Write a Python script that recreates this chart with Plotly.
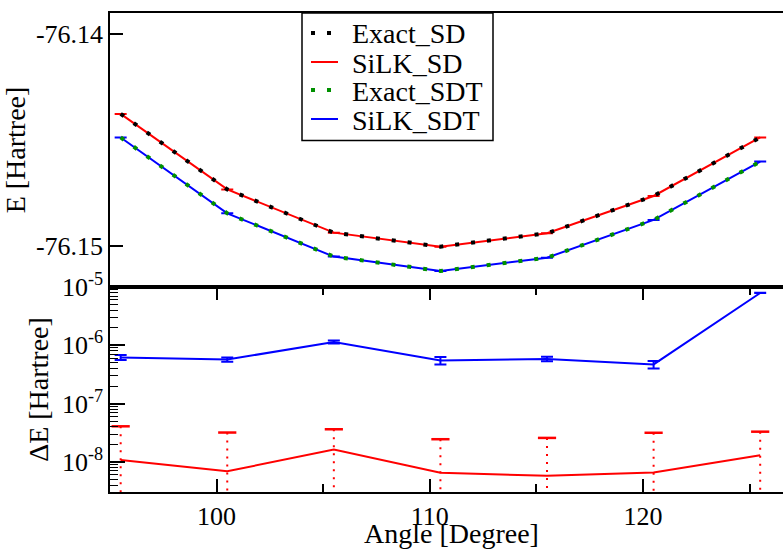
import plotly.graph_objects as go

# ---------------- data ----------------
angle = [95.5, 100.5, 105.5, 110.5, 115.5, 120.5, 125.5]

exact_sd = [-76.14377, -76.14733, -76.14937, -76.15003, -76.14940, -76.14764, -76.14488]
silk_sd = [-76.14377, -76.14733, -76.14937, -76.15003, -76.14940, -76.14764, -76.14488]
exact_sdt = [-76.14488, -76.14846, -76.15050, -76.15118, -76.15055, -76.14877, -76.14602]
silk_sdt = [-76.14488, -76.14846, -76.15050, -76.15118, -76.15055, -76.14877, -76.14602]

silk_sd_err = [3.0e-8, 2.5e-8, 2.0e-8, 1.8e-8, 2.0e-8, 2.5e-8, 2.0e-8]
silk_sdt_err = [6.0e-8, 5.0e-8, 6.5e-8, 8.0e-8, 5.0e-8, 7.0e-8, 5.0e-8]

dE_sd = [1.08e-8, 6.9e-9, 1.63e-8, 6.5e-9, 5.8e-9, 6.6e-9, 1.30e-8]
dE_sdt = [6.2e-7, 5.7e-7, 1.14e-6, 5.5e-7, 5.85e-7, 4.7e-7, 7.9e-6]

series_names = ["Exact_SD", "SiLK_SD", "Exact_SDT", "SiLK_SDT"]

x_ticks = [100, 110, 120]
x_minor = [105, 115, 125]
e_ticks = [-76.14, -76.15]
e_labels = ["-76.14", "-76.15"]
de_ticks = [1e-8, 1e-7, 1e-6, 1e-5]
de_labels = ["10<sup>-8</sup>", "10<sup>-7</sup>", "10<sup>-6</sup>", "10<sup>-5</sup>"]
de_minor = [k * 10.0 ** n for n in range(-9, -5) for k in range(2, 10)]

x_range = [95, 126.57]
e_range = [-76.151934, -76.139009]
de_range = [-8.516, -5.0]

x_title = "Angle [Degree]"

# ---------------- style ----------------
FONT = "Liberation Serif"
RED = "#ff0000"
BLUE = "#0000ff"
GREEN = "#009000"
BLACK = "#000000"
DOTS = "4px,12px"
split = 0.428

series_styles = [
    dict(color=BLACK, width=4, dash=DOTS),
    dict(color=RED, width=2, dash="solid"),
    dict(color=GREEN, width=4, dash=DOTS),
    dict(color=BLUE, width=2, dash="solid"),
]

fig = go.Figure()

# top panel
fig.add_trace(go.Scatter(
    x=angle, y=silk_sd, mode="lines", name=series_names[1], showlegend=False,
    line=series_styles[1],
    error_y=dict(type="data", array=silk_sd_err, color=RED, thickness=2, width=6),
    xaxis="x", yaxis="y"))
fig.add_trace(go.Scatter(
    x=angle, y=exact_sd, mode="lines", name=series_names[0], showlegend=False,
    line=series_styles[0], xaxis="x", yaxis="y"))
fig.add_trace(go.Scatter(
    x=angle, y=silk_sdt, mode="lines", name=series_names[3], showlegend=False,
    line=series_styles[3],
    error_y=dict(type="data", array=silk_sdt_err, color=BLUE, thickness=2, width=6),
    xaxis="x", yaxis="y"))
fig.add_trace(go.Scatter(
    x=angle, y=exact_sdt, mode="lines", name=series_names[2], showlegend=False,
    line=series_styles[2], xaxis="x", yaxis="y"))

# bottom panel
fig.add_trace(go.Scatter(
    x=angle, y=dE_sdt, mode="lines", showlegend=False,
    line=dict(color=BLUE, width=2),
    error_y=dict(type="data", array=silk_sdt_err, color=BLUE, thickness=2, width=6),
    xaxis="x2", yaxis="y2"))

floor = 10 ** (de_range[0] - 1)
ex, ey = [], []
for a, v, e in zip(angle, dE_sd, silk_sd_err):
    ex += [a, a, None]
    ey += [v + e, floor, None]
fig.add_trace(go.Scatter(
    x=ex, y=ey, mode="lines", showlegend=False,
    line=dict(color=RED, width=2, dash="2px,6px"),
    xaxis="x2", yaxis="y2"))
fig.add_trace(go.Scatter(
    x=angle, y=[v + e for v, e in zip(dE_sd, silk_sd_err)], mode="markers",
    showlegend=False,
    marker=dict(symbol="line-ew-open", size=13, color=RED,
                line=dict(color=RED, width=2.5)),
    xaxis="x2", yaxis="y2"))
fig.add_trace(go.Scatter(
    x=angle, y=dE_sd, mode="lines", showlegend=False,
    line=dict(color=RED, width=2),
    xaxis="x2", yaxis="y2"))

# ---------------- legend (drawn as a boxed key) ----------------
PLOT_L, PLOT_W, PLOT_T, PLOT_H = 110, 673, 13, 479
def px(xp):
    return (xp - PLOT_L) / PLOT_W
def py(yp):
    return (PLOT_T + PLOT_H - yp) / PLOT_H

shapes = [dict(type="rect", xref="paper", yref="paper",
               x0=px(302), x1=px(493), y0=py(140.5), y1=py(13),
               line=dict(color=BLACK, width=1.5), fillcolor="white", layer="above")]
annotations = []
item_y = [33, 62, 90, 119]
for name, style, yc in zip(series_names, series_styles, item_y):
    solid = style["dash"] == "solid"
    shapes.append(dict(type="line", xref="paper", yref="paper",
                       x0=px(311), x1=px(338) if solid else px(333),
                       y0=py(yc), y1=py(yc),
                       line=dict(color=style["color"], width=style["width"],
                                 dash=style["dash"]),
                       layer="above"))
    annotations.append(dict(xref="paper", yref="paper", x=px(350), y=py(yc + 1),
                            xanchor="left", yanchor="middle", showarrow=False,
                            text=name, font=dict(family=FONT, size=28, color=BLACK)))

# x-axis title (placed as in the original, centred under the full frame)
annotations.append(dict(xref="paper", yref="paper", x=px(451), y=py(516),
                        xanchor="center", yanchor="top", showarrow=False,
                        text=x_title, font=dict(family=FONT, size=28, color=BLACK)))

tickfont = dict(family=FONT, size=26, color=BLACK)
titlefont = dict(family=FONT, size=28, color=BLACK)

fig.update_layout(
    width=783, height=550,
    margin=dict(l=110, r=0, t=13, b=58, autoexpand=False),
    paper_bgcolor="white", plot_bgcolor="white",
    font=dict(family=FONT, color=BLACK),
    showlegend=False,
    shapes=shapes, annotations=annotations,
    xaxis=dict(
        domain=[0, 1], anchor="y", range=x_range, automargin=False,
        showticklabels=False, ticks="", showgrid=False, zeroline=False,
        showline=True, linecolor=BLACK, linewidth=1.5, mirror=True),
    yaxis=dict(
        domain=[split, 1], anchor="x", range=e_range, automargin=False,
        tickmode="array", tickvals=e_ticks, ticktext=e_labels,
        ticks="inside", ticklen=13, tickwidth=1.5, tickcolor=BLACK,
        tickfont=tickfont, showgrid=False, zeroline=False,
        showline=True, linecolor=BLACK, linewidth=1.5,
        title=dict(text="E [Hartree]", font=titlefont, standoff=4)),
    yaxis3=dict(
        overlaying="y", side="right", anchor="x", range=e_range, automargin=False,
        tickmode="array", tickvals=e_ticks, showticklabels=False,
        ticks="inside", ticklen=5, tickwidth=1.5, tickcolor=BLACK,
        showgrid=False, zeroline=False, showline=False),
    xaxis2=dict(
        domain=[0, 1], anchor="y2", range=x_range, matches="x", automargin=False,
        tickmode="array", tickvals=x_ticks,
        ticks="inside", ticklen=13, tickwidth=1.5, tickcolor=BLACK,
        minor=dict(tickmode="array", tickvals=x_minor, ticks="inside",
                   ticklen=8, tickwidth=1.5, tickcolor=BLACK, showgrid=False),
        tickfont=tickfont, showgrid=False, zeroline=False,
        showline=True, linecolor=BLACK, linewidth=1.5, mirror="ticks"),
    yaxis2=dict(
        domain=[0, split], anchor="x2", type="log", range=de_range, automargin=False,
        tickmode="array", tickvals=de_ticks, ticktext=de_labels,
        ticks="inside", ticklen=15, tickwidth=1.5, tickcolor=BLACK,
        minor=dict(tickmode="array", tickvals=de_minor, ticks="inside",
                   ticklen=8, tickwidth=1, tickcolor=BLACK, showgrid=False),
        tickfont=tickfont, showgrid=False, zeroline=False,
        showline=True, linecolor=BLACK, linewidth=1.5,
        title=dict(text="ΔE [Hartree]", font=titlefont, standoff=5)),
    yaxis4=dict(
        overlaying="y2", side="right", anchor="x2", type="log", range=de_range,
        automargin=False,
        tickmode="array", tickvals=de_ticks, showticklabels=False,
        ticks="inside", ticklen=15, tickwidth=1.5, tickcolor=BLACK,
        showgrid=False, zeroline=False, showline=False),
)

fig.write_html("out.html")
